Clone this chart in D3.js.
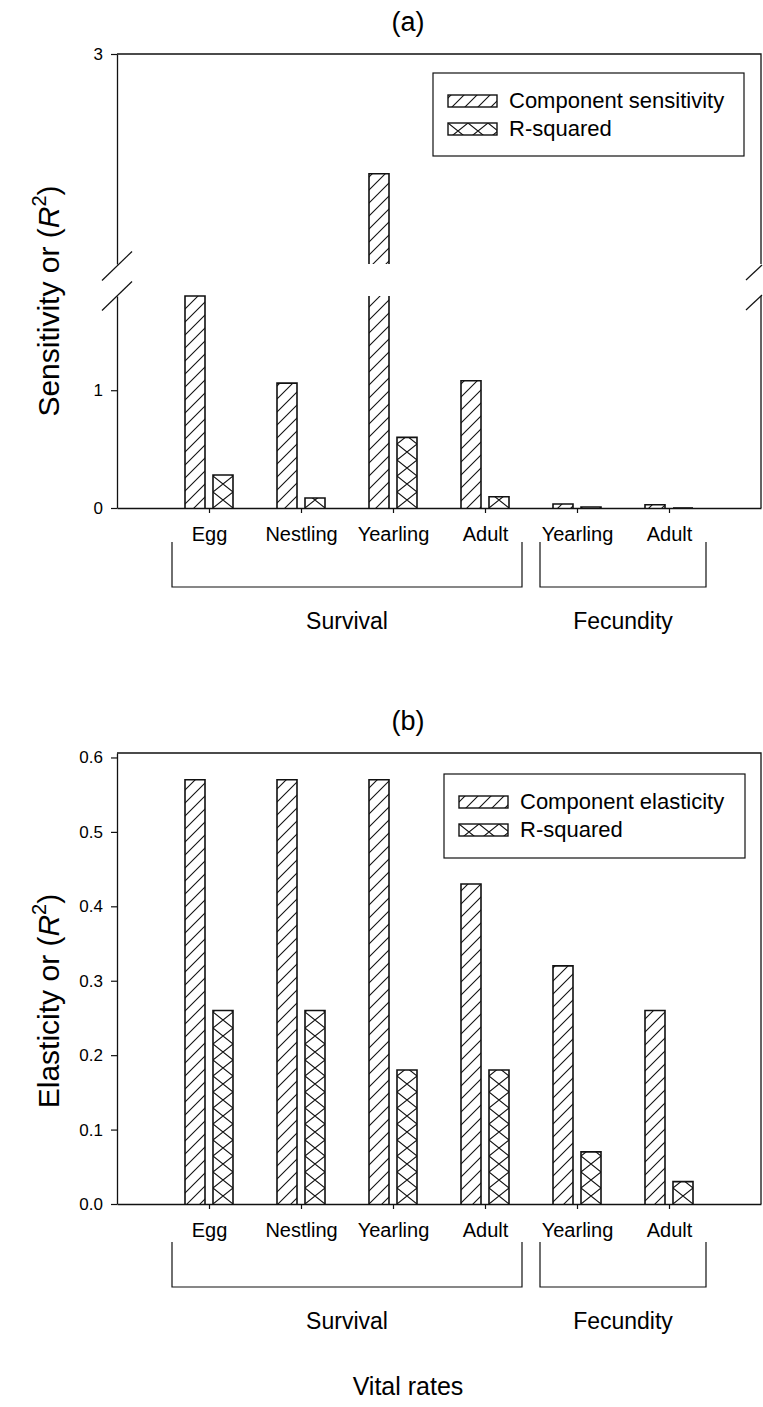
<!DOCTYPE html>
<html><head><meta charset="utf-8">
<script src="https://cdn.jsdelivr.net/npm/d3@7/dist/d3.min.js"></script>
<style>
body{margin:0;background:#fff}
svg{display:block}
text{font-family:"Liberation Sans",Arial,Helvetica,sans-serif;fill:#000}
</style>
</head><body>
<svg id="c" width="763" height="1407"></svg>
<script>
// ---------- data ----------
const categories = ["Egg","Nestling","Yearling","Adult","Yearling","Adult"];
const groupNames = ["Survival","Fecundity"];
const groupFirst = [0,4];
const groupLast = [3,5];
const sensitivity = [1.8, 1.06, 2.43, 1.08, 0.034, 0.028];
const rsqA = [0.28, 0.085, 0.60, 0.095, 0.008, 0.0];
const elasticity = [0.57, 0.57, 0.57, 0.43, 0.32, 0.26];
const rsqB = [0.26, 0.26, 0.18, 0.18, 0.07, 0.03];
const ticksLowerA = [0,1];
const ticksUpperA = [3];
const ticksB = [0,0.1,0.2,0.3,0.4,0.5,0.6];
const legendA = ["Component sensitivity","R-squared"];
const legendB = ["Component elasticity","R-squared"];

// ---------- setup ----------
const FONT = '"Liberation Sans",Arial,sans-serif';
const INK = "#111";
const svg = d3.select("#c");
const defs = svg.append("defs");
const hatch = defs.append("pattern").attr("id","hatch").attr("patternUnits","userSpaceOnUse")
  .attr("width",13).attr("height",13);
hatch.append("path").attr("d","M-2,2 L2,-2 M0,13 L13,0 M11,15 L15,11")
  .attr("stroke",INK).attr("stroke-width",1.1).attr("fill","none");
let crossId = 0;
function crossPattern(x0, y0){
  const id = "cross"+(crossId++);
  const p = defs.append("pattern").attr("id",id).attr("patternUnits","userSpaceOnUse")
    .attr("x",x0).attr("y",y0).attr("width",20).attr("height",16);
  p.append("path").attr("d","M0,0 L20,16 M20,0 L0,16")
    .attr("stroke",INK).attr("stroke-width",1.1).attr("fill","none");
  return `url(#${id})`;
}

const X0 = 117, X1 = 761;
const x = d3.scaleLinear().domain([0,7]).range([X0,X1]);
const BW = 20, GAP = 4;
const OFF = 700; // vertical offset of panel (b)
const TX = 408;  // centre of titles

function styleAxis(g, fs){
  g.select(".domain").attr("stroke",INK).attr("stroke-width",1.3);
  g.selectAll(".tick line").attr("stroke",INK).attr("stroke-width",1.2);
  g.selectAll(".tick text").attr("font-size",fs).attr("font-family",FONT).attr("fill","#000");
}
function xAxis(g, y0){
  const ax = d3.axisBottom(x).tickValues([1,2,3,4,5,6])
    .tickFormat(d=>categories[d-1]).tickSizeInner(5).tickSizeOuter(0).tickPadding(14);
  g.attr("transform",`translate(0,${y0})`).call(ax);
  styleAxis(g,20);
}
function brackets(g, top, bottom, textY){
  groupNames.forEach((n,i)=>{
    const l = x(groupFirst[i]+1)-37, r = x(groupLast[i]+1)+37;
    g.append("path").attr("d",`M${l},${top} L${l},${bottom} L${r},${bottom} L${r},${top}`)
      .attr("fill","none").attr("stroke",INK).attr("stroke-width",1.2);
    g.append("text").attr("x",(l+r)/2).attr("y",textY).attr("text-anchor","middle")
      .attr("font-size",23).text(n);
  });
}
function legend(g, x0, y0, w, h, labels){
  g.append("rect").attr("x",x0).attr("y",y0).attr("width",w).attr("height",h)
    .attr("fill","#fff").attr("stroke",INK).attr("stroke-width",1.2);
  labels.forEach((t,i)=>{
    const yy = y0+22+i*28;
    g.append("rect").attr("x",x0+15).attr("y",yy).attr("width",49).attr("height",12)
      .attr("fill",i===0?"url(#hatch)":crossPattern(x0+15,yy)).attr("stroke",INK).attr("stroke-width",1.4);
    g.append("text").attr("x",x0+76).attr("y",yy+13).attr("font-size",22).text(t);
  });
}
function yTitle(g, cx, cy, word){
  const t = g.append("text").attr("transform",`translate(${cx},${cy}) rotate(-90)`)
    .attr("text-anchor","middle").attr("font-size",30);
  t.append("tspan").text(word+" or (");
  t.append("tspan").attr("font-style","italic").text("R");
  t.append("tspan").attr("font-size",20).attr("dy",-13).text("2");
  t.append("tspan").attr("dy",13).text(")");
}
function barRect(g, x0, yTop, yBot, fill, openTop){
  g.append("rect").attr("x",x0).attr("y",yTop).attr("width",BW).attr("height",Math.max(0,yBot-yTop))
    .attr("fill",fill).attr("stroke","none");
  let d = `M${x0},${yBot} L${x0},${yTop}`;
  d += openTop ? ` M${x0+BW},${yTop}` : ` L${x0+BW},${yTop}`;
  d += ` L${x0+BW},${yBot}`;
  g.append("path").attr("d",d).attr("fill","none").attr("stroke",INK).attr("stroke-width",1.6);
}

// ---------- panel (a) ----------
const gA = svg.append("g");
const yLo = d3.scaleLinear().domain([0,1.8]).range([508,296]);
const yUp = d3.scaleLinear().domain([2,3]).range([264,54]);

gA.append("text").attr("x",TX).attr("y",31).attr("text-anchor","middle").attr("font-size",27).text("(a)");

sensitivity.forEach((v,i)=>{
  const bx = x(i+1)-GAP-BW;
  if(v<=1.8){ barRect(gA,bx,yLo(v),yLo(0),"url(#hatch)",false); }
  else {
    barRect(gA,bx,yLo(1.8),yLo(0),"url(#hatch)",true);
    barRect(gA,bx,yUp(v),yUp(2),"url(#hatch)",false);
  }
});
rsqA.forEach((v,i)=>{
  const bx = x(i+1)+GAP;
  barRect(gA,bx,yLo(v),yLo(0),crossPattern(bx,yLo(0)),false);
});

const axLo = d3.axisLeft(yLo).tickValues(ticksLowerA).tickFormat(d3.format("d")).tickSizeInner(6).tickSizeOuter(0).tickPadding(8);
const axUp = d3.axisLeft(yUp).tickValues(ticksUpperA).tickFormat(d3.format("d")).tickSizeInner(6).tickSizeOuter(0).tickPadding(8);
[axLo,axUp].forEach(ax=>{
  const g = gA.append("g").attr("transform",`translate(${X0},0)`).call(ax);
  styleAxis(g,17);
});
xAxis(gA.append("g"), yLo(0));
gA.append("path").attr("d",`M${X0},${yUp(3)} L${X1},${yUp(3)} L${X1},${yUp(2)} M${X1},${yLo(1.8)} L${X1},${yLo(0)}`)
  .attr("fill","none").attr("stroke",INK).attr("stroke-width",1.3);
// break marks
[yUp(2)+2, yLo(1.8)].forEach(cy=>{
  gA.append("line").attr("x1",X0-15).attr("y1",cy+14.5).attr("x2",X0+15).attr("y2",cy-14.5)
    .attr("stroke",INK).attr("stroke-width",1.2);
  gA.append("line").attr("x1",X1-15).attr("y1",cy+14).attr("x2",X1+1).attr("y2",cy-1)
    .attr("stroke",INK).attr("stroke-width",1.2);
});
legend(gA,433,73,311,83,legendA);
brackets(gA,542,587,629);
yTitle(gA,59,301,"Sensitivity");

// ---------- panel (b) ----------
const gB = svg.append("g");
const yB = d3.scaleLinear().domain([0,0.606]).range([508+OFF-4,54+OFF-1]);
gB.append("text").attr("x",TX).attr("y",31+OFF-1).attr("text-anchor","middle").attr("font-size",27).text("(b)");
elasticity.forEach((v,i)=>barRect(gB,x(i+1)-GAP-BW,yB(v),yB(0),"url(#hatch)",false));
rsqB.forEach((v,i)=>{ const bx=x(i+1)+GAP; barRect(gB,bx,yB(v),yB(0),crossPattern(bx,yB(0)),false); });
const axB = d3.axisLeft(yB).tickValues(ticksB).tickFormat(d3.format(".1f")).tickSizeInner(6).tickSizeOuter(0).tickPadding(8);
const gyB = gB.append("g").attr("transform",`translate(${X0},0)`).call(axB);
styleAxis(gyB,17);
xAxis(gB.append("g"), yB(0));
gB.append("path").attr("d",`M${X0},${yB(0.606)} L${X1},${yB(0.606)} L${X1},${yB(0)}`)
  .attr("fill","none").attr("stroke",INK).attr("stroke-width",1.3);
legend(gB,444,774,301,84,legendB);
brackets(gB,542+OFF,587+OFF,629+OFF);
yTitle(gB,59,301+OFF,"Elasticity");

svg.append("text").attr("x",TX).attr("y",1395).attr("text-anchor","middle").attr("font-size",25).text("Vital rates");
</script>
</body></html>
